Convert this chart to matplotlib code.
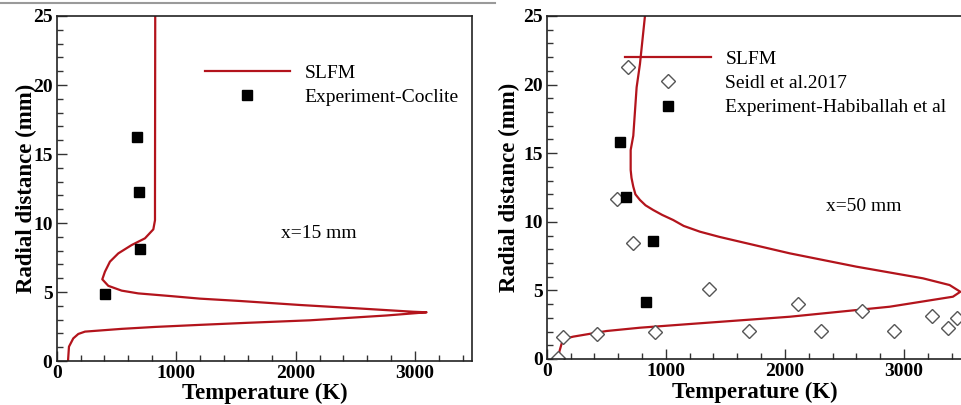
import matplotlib
matplotlib.use("Agg")
import matplotlib.pyplot as plt
from matplotlib.lines import Line2D
from matplotlib.ticker import MultipleLocator

plt.rcParams['font.family'] = ['Liberation Serif', 'DejaVu Serif']

# x = 15 mm panel
slfm15_T = [95, 103, 139, 181, 237, 544, 823, 1200, 1600, 2120, 2761, 3096,
            2984, 2510, 2036, 1534, 1199, 962, 683, 544, 432, 382,
            404, 446, 516, 627, 739, 809, 823, 823, 825]
slfm15_r = [0.0, 1.04, 1.64, 1.96, 2.13, 2.33, 2.47, 2.62, 2.77, 2.95, 3.30, 3.53,
            3.57, 3.82, 4.06, 4.35, 4.52, 4.70, 4.90, 5.10, 5.45, 5.92,
            6.47, 7.20, 7.80, 8.40, 8.89, 9.54, 10.2, 11.7, 25.0]
coclite_T = [669, 691, 700, 407]
coclite_r = [16.2, 12.27, 8.09, 4.83]

# x = 50 mm panel
slfm50_T = [98, 106, 126, 162, 223, 503, 783, 1202, 2041, 2880, 3411, 3473,
            3383, 3159, 2600, 2041, 1622, 1450, 1286, 1150, 1062, 970, 894, 830,
            783, 745, 727, 712, 705, 705, 727, 755, 783, 825]
slfm50_r = [0.0, 0.53, 1.14, 1.50, 1.63, 2.04, 2.28, 2.55, 3.08, 3.81, 4.54, 4.90,
            5.39, 5.88, 6.73, 7.70, 8.55, 8.90, 9.28, 9.70, 10.13, 10.5, 10.86, 11.2,
            11.59, 12.0, 12.56, 13.2, 13.78, 15.23, 16.27, 19.8, 21.5, 25.0]
seidl_T = [685, 590, 721, 1364, 2106, 2651, 3238, 3445, 3369, 2919, 2304, 1695,
           912, 425, 134, 92]
seidl_r = [21.26, 11.64, 8.45, 5.08, 4.01, 3.48, 3.13, 2.99, 2.24, 2.06, 2.06, 2.06,
           1.99, 1.84, 1.58, 0.09]
habib_T = [618, 663, 892, 836]
habib_r = [15.82, 11.83, 8.58, 4.18]

red = '#b3141c'

fig = plt.figure(figsize=(9.62, 4.05), dpi=100)
ax1 = fig.add_axes([0.0589, 0.1086, 0.4322, 0.8519])
ax2 = fig.add_axes([0.5683, 0.1136, 0.4333, 0.8469])

# thin grey rule along the top edge
fig.add_artist(Line2D([0, 0.515], [0.993, 0.993], color='#9a9a9a', lw=1.5,
                      transform=fig.transFigure))


def style(ax, xmax, ylab_x, xlab_y):
    ax.set_xlim(0, xmax)
    ax.set_ylim(0, 25)
    ax.xaxis.set_major_locator(MultipleLocator(1000))
    ax.xaxis.set_minor_locator(MultipleLocator(200))
    ax.yaxis.set_major_locator(MultipleLocator(5))
    ax.yaxis.set_minor_locator(MultipleLocator(1))
    ax.tick_params(which='both', direction='in', top=False, right=False,
                   width=1, colors='#333333', labelcolor='black')
    ax.tick_params(which='major', length=7, pad=3, labelsize=14)
    ax.tick_params(which='minor', length=4)
    for lab in ax.get_xticklabels() + ax.get_yticklabels():
        lab.set_fontweight('bold')
    for s in ax.spines.values():
        s.set_linewidth(1.2)
        s.set_color('#222222')
    ax.set_xlabel('Temperature (K)', fontsize=16.5, fontweight='bold')
    ax.set_ylabel('Radial distance (mm)', fontsize=16.5, fontweight='bold')
    ax.yaxis.set_label_coords(ylab_x, 0.5)
    ax.xaxis.set_label_coords(0.5, xlab_y)


# left panel
ax1.plot(slfm15_T, slfm15_r, color=red, lw=1.6, label='SLFM')
ax1.plot(coclite_T, coclite_r, 's', color='black', ms=7, label='Experiment-Coclite')
style(ax1, 3480, -0.047, -0.062)
ax1.legend(loc='upper left', bbox_to_anchor=(0.356, 0.859), frameon=False,
           fontsize=14, handlelength=4.4, handletextpad=0.75, labelspacing=0.33,
           borderpad=0, borderaxespad=0, numpoints=1)
ax1.text(0.54, 0.371, 'x=15 mm', transform=ax1.transAxes, fontsize=14,
         va='center', ha='left')

# right panel
ax2.plot(slfm50_T, slfm50_r, color=red, lw=1.6, label='SLFM')
ax2.plot(seidl_T, seidl_r, 'D', mfc='white', mec='#555555', mew=1.0, ms=7.5,
         label='Seidl et al.2017')
ax2.plot(habib_T, habib_r, 's', color='black', ms=7, label='Experiment-Habiballah et al')
style(ax2, 3500, -0.064, -0.066)
ax2.legend(loc='upper left', bbox_to_anchor=(0.1885, 0.899), frameon=False,
           fontsize=14, handlelength=4.4, handletextpad=0.75, labelspacing=0.33,
           borderpad=0, borderaxespad=0, numpoints=1)
ax2.text(0.67, 0.444, 'x=50 mm', transform=ax2.transAxes, fontsize=14,
         va='center', ha='left')

fig.savefig('out.png', dpi=100)
